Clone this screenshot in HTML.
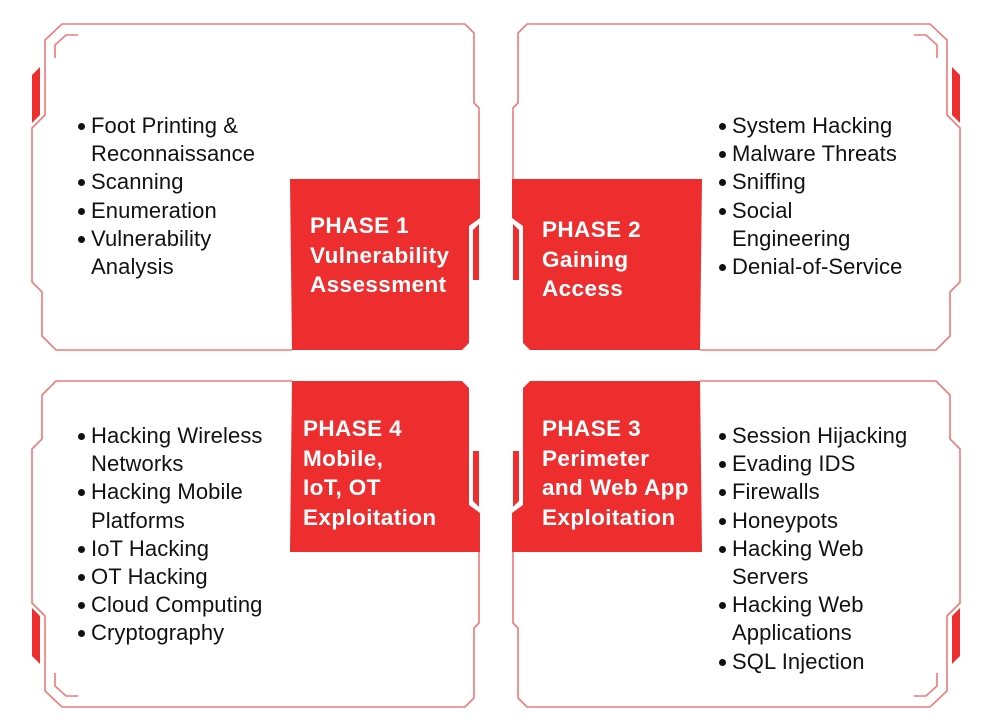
<!DOCTYPE html>
<html><head><meta charset="utf-8"><style>
body{margin:0;background:#fff;width:985px;height:727px;overflow:hidden;position:relative;font-family:"Liberation Sans",sans-serif}
svg{position:absolute;left:0;top:0}
.t{position:absolute;font-size:22px;color:#111;line-height:28.2px;white-space:nowrap;letter-spacing:0.1px}
.t div{position:relative;padding-left:13px}
.t div.b::before{content:"";position:absolute;left:0;top:11px;width:7px;height:7px;border-radius:50%;background:#111}
.p{position:absolute;font-size:22.5px;font-weight:bold;color:#fff;line-height:29.6px;white-space:nowrap;letter-spacing:0.4px}
</style></head><body>
<svg width="985" height="727" viewBox="0 0 985 727">
<defs>
<g id="panel">
<path d="M292,350 L56,350 L42,336 L42,292 L32,282 L32,128 L45,115 L45,40 L62,24 L465,24 L474,33 L474,103 L479,108 L479,179" fill="none" stroke="#f07a7a" stroke-width="1.6"/>
<path d="M55,58 L55,45 L66,35 L78,35" fill="none" stroke="#f07a7a" stroke-width="1.6"/>
<polygon points="32,75 40,67 40,115 32,123" fill="#ee2e2e"/>
<polygon points="290,179 480,179 480,218 469,226 469,343 462,350 292,350" fill="#ee2e2e"/>
<polygon points="473,230 479,224 479,280 473,280" fill="#ee2e2e"/>
</g>
</defs>
<use href="#panel"/>
<use href="#panel" transform="translate(992,0) scale(-1,1)"/>
<use href="#panel" transform="translate(0,731) scale(1,-1)"/>
<use href="#panel" transform="translate(992,731) scale(-1,-1)"/>
</svg>

<div class="t" style="left:78px;top:112px">
<div class="b">Foot Printing &amp;</div><div>Reconnaissance</div><div class="b">Scanning</div><div class="b">Enumeration</div><div class="b">Vulnerability</div><div>Analysis</div>
</div>
<div class="p" style="left:310px;top:211px">PHASE 1<br>Vulnerability<br>Assessment</div>

<div class="t" style="left:719px;top:112px">
<div class="b">System Hacking</div><div class="b">Malware Threats</div><div class="b">Sniffing</div><div class="b">Social</div><div>Engineering</div><div class="b">Denial-of-Service</div>
</div>
<div class="p" style="left:542px;top:215px">PHASE 2<br>Gaining<br>Access</div>

<div class="t" style="left:78px;top:422px">
<div class="b">Hacking Wireless</div><div>Networks</div><div class="b">Hacking Mobile</div><div>Platforms</div><div class="b">IoT Hacking</div><div class="b">OT Hacking</div><div class="b">Cloud Computing</div><div class="b">Cryptography</div>
</div>
<div class="p" style="left:303px;top:414px">PHASE 4<br>Mobile,<br>IoT, OT<br>Exploitation</div>

<div class="t" style="left:719px;top:422px">
<div class="b">Session Hijacking</div><div class="b">Evading IDS</div><div class="b">Firewalls</div><div class="b">Honeypots</div><div class="b">Hacking Web</div><div>Servers</div><div class="b">Hacking Web</div><div>Applications</div><div class="b">SQL Injection</div>
</div>
<div class="p" style="left:542px;top:414px">PHASE 3<br>Perimeter<br>and Web App<br>Exploitation</div>
</body></html>
